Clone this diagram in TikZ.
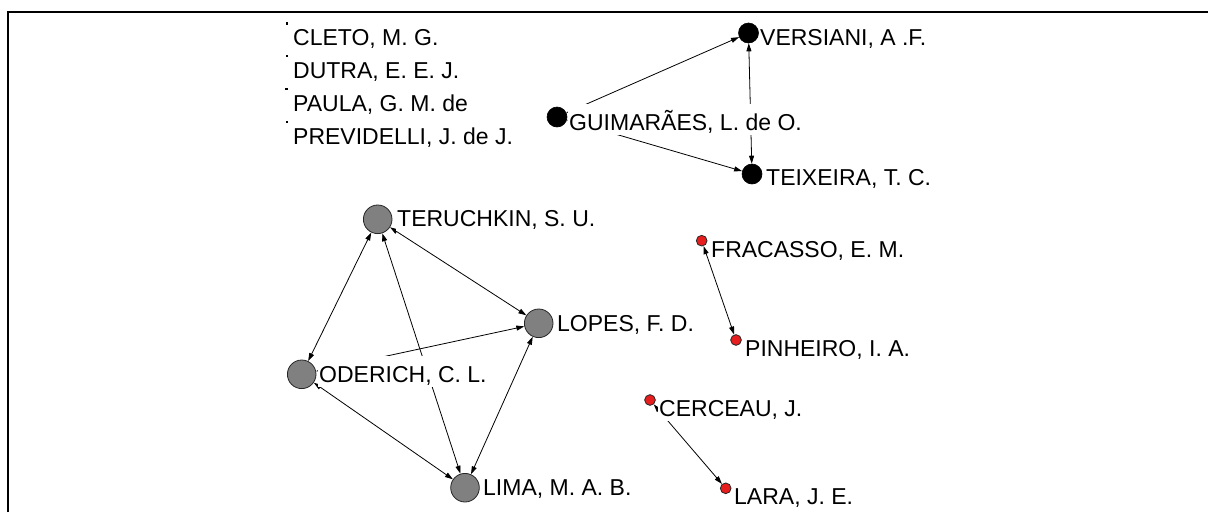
\documentclass[tikz,border=0pt]{standalone}
\usepackage{fontspec}
\setmainfont{Liberation Sans}
\usetikzlibrary{arrows.meta}
\definecolor{pjred}{RGB}{230,30,30}
\definecolor{pjgray}{RGB}{128,128,128}
\begin{document}
\begin{tikzpicture}[x=1pt,y=-1pt,
  lbl/.style={anchor=base west, fill=white, inner sep=0pt, inner xsep=1pt,
    text height=26pt, text depth=5pt, font=\fontsize{23}{27}\selectfont},
  gnode/.style={circle, draw=black!85, fill=pjgray, minimum size=28.6pt, inner sep=0pt, line width=0.8pt},
  bnode/.style={circle, draw=black, fill=black, minimum size=20pt, inner sep=0pt, line width=0.6pt},
  rnode/.style={circle, draw=black!85, fill=pjred, minimum size=10.7pt, inner sep=0pt, line width=0.8pt},
  dnode/.style={rectangle, fill=black, minimum size=2.4pt, inner sep=0pt, outer sep=0pt},
  conn/.style={line width=0.8pt, {Triangle[length=8pt,width=5pt]}-{Triangle[length=8pt,width=5pt]}},
]
\useasboundingbox (0,0) rectangle (1208,512);
\draw[line width=1.4pt] (8,512) -- (8,12) -- (1208,12);

% vertices
\node[dnode] (cleto) at (287,23.5) {};
\node[dnode] (dutra) at (287,56) {};
\node[dnode] (paula) at (286.5,89) {};
\node[dnode] (previ) at (287,122) {};

\node[bnode] (vers) at (748.5,33) {};
\node[bnode] (guim) at (557,117) {};
\node[bnode] (teix) at (752,174) {};

\node[gnode] (teru) at (377.7,219.3) {};
\node[gnode] (lopes) at (538.7,323.3) {};
\node[gnode] (oder) at (301.7,374.3) {};
\node[gnode] (lima) at (465,487.7) {};

\node[rnode] (frac) at (701.7,240.7) {};
\node[rnode] (pinh) at (736,340) {};
\node[rnode] (cerc) at (650,400) {};
\node[rnode] (lara) at (725.7,488.3) {};

% connectors
\draw[conn] (guim) -- (vers);
\draw[conn] (guim) -- (teix);
\draw[conn] (vers) -- (teix);

\draw[conn] (teru) -- (oder);
\draw[conn] (teru) -- (lopes);
\draw[conn] (teru) -- (lima);
\draw[conn] (oder) -- (lopes);
\draw[conn] (oder) -- (lima);
\draw[conn] (lopes) -- (lima);

\draw[conn] (frac) -- (pinh);
\draw[conn] (cerc) -- (lara);

% labels
\node[lbl] (lcleto) at (292,45) {CLETO, M. G.};
\node[lbl] (ldutra) at (292,78) {DUTRA, E. E. J.};
\node[lbl] (lpaula) at (292,111) {PAULA, G. M. de};
\node[lbl] (lprevi) at (292,144) {PREVIDELLI, J. de J.};

\node[lbl] (lvers) at (759,45) {VERSIANI, A .F.};
\node[lbl] (lguim) at (568,130) {GUIMARÃES, L. de O.};
\node[lbl] (lteix) at (765,185) {TEIXEIRA, T. C.};

\node[lbl] (lteru) at (396,226) {TERUCHKIN, S. U.};
\node[lbl] (llopes) at (556,331) {LOPES, F. D.};
\node[lbl] (loder) at (318,382) {ODERICH, C. L.};
\node[lbl] (llima) at (482,495) {LIMA, M. A. B.};

\node[lbl] (lfrac) at (710,257) {FRACASSO, E. M.};
\node[lbl] (lpinh) at (744,356) {PINHEIRO, I. A.};
\node[lbl] (lcerc) at (658,416) {CERCEAU, J.};
\node[lbl] (llara) at (733,504.5) {LARA, J. E.};
\end{tikzpicture}
\end{document}
